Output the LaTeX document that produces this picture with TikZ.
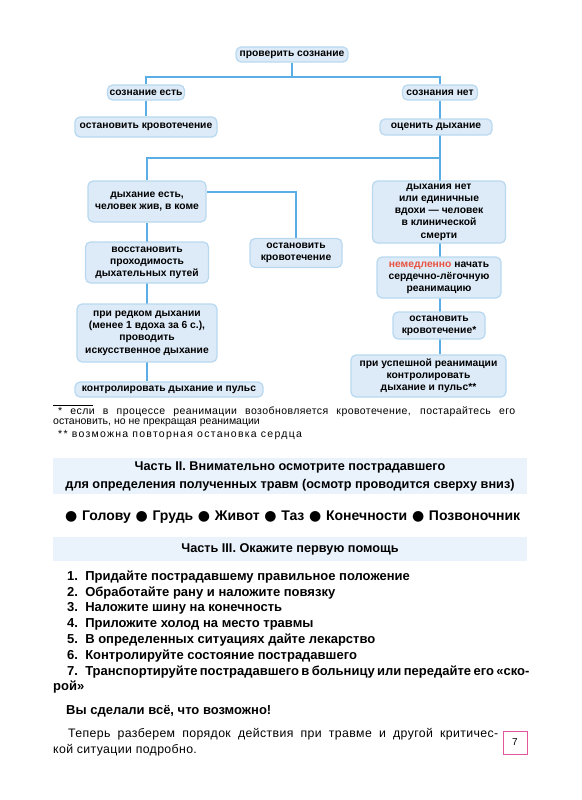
\documentclass[tikz,border=0pt]{standalone}
\usepackage{fontspec}
\setmainfont{Liberation Sans}
\newfontfamily\symfont{DejaVu Sans}
\usetikzlibrary{backgrounds}

\definecolor{boxfill}{HTML}{DDEBF8}
\definecolor{boxline}{HTML}{B8D8F0}
\definecolor{linkblue}{HTML}{5AADE5}
\definecolor{bandfill}{HTML}{EAF3FC}
\definecolor{alarm}{HTML}{E9533F}
\definecolor{pagepink}{HTML}{E3559C}

\tikzset{
  stepbox/.style={draw=boxline, line width=1.2pt, fill=boxfill, rounded corners=5pt,
    align=center, inner sep=1pt, font=\fontsize{10.3}{12.2}\selectfont\bfseries},
  link/.style={draw=linkblue, line width=2pt},
  note/.style={inner sep=0pt, font=\fontsize{10.5}{12}\selectfont},
  headtext/.style={inner sep=0pt, font=\fontsize{12.7}{15}\selectfont\bfseries},
  listtext/.style={inner sep=0pt, font=\fontsize{13}{15}\selectfont\bfseries},
}

\begin{document}
\begin{tikzpicture}[x=1pt, y=-1pt]
	\useasboundingbox (0,0) rectangle (581,800);

	% flow chart, top
	\node[stepbox, minimum width=112pt, minimum height=15pt] (check) at (292,54.5) {проверить сознание};
	\node[stepbox, minimum width=77pt, minimum height=15pt] (yes) at (146,92.5) {сознание есть};
	\node[stepbox, minimum width=75pt, minimum height=15pt] (no) at (440,92.5) {сознания нет};
	\node[stepbox, minimum width=142pt, minimum height=20pt] (stopL) at (146,127) {остановить кровотечение};
	\node[stepbox, minimum width=112pt, minimum height=16pt] (eval) at (436,127) {оценить дыхание};

	% left branch
	\node[stepbox, minimum width=118pt, minimum height=41pt] (alive) at (147,201.5) {дыхание есть,\\человек жив, в коме};
	\node[stepbox, minimum width=123pt, minimum height=41pt] (restore) at (147,262.5) {восстановить\\проходимость\\дыхательных путей};
	\node[stepbox, minimum width=140pt, minimum height=58pt] (rare) at (147,333) {при редком дыхании\\(менее 1 вдоха за 6 с.),\\проводить\\искусственное дыхание};
	\node[stepbox, minimum width=188pt, minimum height=15pt] (monitor) at (169,389.5) {контролировать дыхание и пульс};
	\node[stepbox, minimum width=92pt, minimum height=29pt] (stopM) at (296,253) {остановить\\кровотечение};

	% right branch
	\node[stepbox, minimum width=133pt, minimum height=62pt] (dead) at (439,212) {дыхания нет\\или единичные\\вдохи — человек\\в клинической\\смерти};
	\node[stepbox, minimum width=124pt, minimum height=41pt] (cpr) at (439,277.5) {{\color{alarm}немедленно} начать\\сердечно-лёгочную\\реанимацию};
	\node[stepbox, minimum width=92pt, minimum height=27pt] (stopR) at (439,325.5) {остановить\\кровотечение*};
	\node[stepbox, minimum width=155pt, minimum height=42pt] (success) at (428.5,376) {при успешной реанимации\\контролировать\\дыхание и пульс**};

	% connectors
	\begin{scope}[on background layer]
		\coordinate (split1) at (292,77);
		\coordinate (split2) at (440,158);
		\draw[link] (check) -- (split1);
		\draw[link] (split1) -| (yes);
		\draw[link] (split1) -| (no);
		\draw[link] (yes) -- (stopL);
		\draw[link] (no) -- (no |- success.north);
		\draw[link] (split2) -| (alive);
		\draw[link] (alive) -- (alive |- monitor.north);
		\draw[link] ([yshift=9.5pt]alive.east) -| (stopM);
	\end{scope}

	% footnotes
	\draw[line width=0.5pt] (53,405) -- (93,405);
	\node[note, anchor=west] (fn1) at (58,411.5) {\addfontfeature{LetterSpace=4}\makebox[457pt][s]{* если в процессе реанимации возобновляется кровотечение, постарайтесь его}};
	\node[note, anchor=west] (fn2) at (53,423) {остановить, но не прекращая реанимации};
	\node[note, anchor=west] (fn3) at (58,434.5) {\addfontfeature{LetterSpace=12}** возможна повторная остановка сердца};

	% part II
	\fill[bandfill] (53,458) rectangle (527,494);
	\node[headtext] (head2a) at (290,467) {Часть II. Внимательно осмотрите пострадавшего};
	\node[headtext] (head2b) at (290,485) {для определения полученных травм (осмотр проводится сверху вниз)};
	\node[headtext, font=\fontsize{14}{16}\selectfont\bfseries, anchor=west] (parts) at (65,517) {\makebox[455pt][s]{{\symfont ●} Голову {\symfont ●} Грудь {\symfont ●} Живот {\symfont ●} Таз {\symfont ●} Конечности {\symfont ●} Позвоночник}};

	% part III
	\fill[bandfill] (53,537) rectangle (527,561);
	\node[headtext] (head3) at (290,549) {Часть III. Окажите первую помощь};
	\foreach \txt [count=\i] in {Придайте пострадавшему правильное положение,
		Обработайте рану и наложите повязку, Наложите шину на конечность,
		Приложите холод на место травмы, В определенных ситуациях дайте лекарство,
		Контролируйте состояние пострадавшего}
		\node[listtext, anchor=west] (item\i) at (67,561+15.8*\i) {\i.\ \ \txt};
	\node[listtext, anchor=west] (item7) at (67,672) {\makebox[460pt][s]{7.\ \ \ Транспортируйте пострадавшего в больницу или передайте его «ско-}};
	\node[listtext, anchor=west] (item7b) at (53,687.5) {рой»};
	\node[listtext, anchor=west] (done) at (66,711) {Вы сделали всё, что возможно!};

	% closing text and page number
	\node[note, font=\fontsize{12.3}{14}\selectfont, anchor=west] (next1) at (68,734) {\addfontfeature{LetterSpace=3}\makebox[430pt][s]{Теперь разберем порядок действия при травме и другой критичес-}};
	\node[note, font=\fontsize{12.3}{14}\selectfont, anchor=west] (next2) at (53,750) {\addfontfeature{LetterSpace=3}кой ситуации подробно.};
	\node[draw=pagepink, line width=1pt, minimum width=24pt, minimum height=23pt, font=\fontsize{10}{12}\selectfont] (pagenum) at (515,742.5) {7};

\end{tikzpicture}
\end{document}
